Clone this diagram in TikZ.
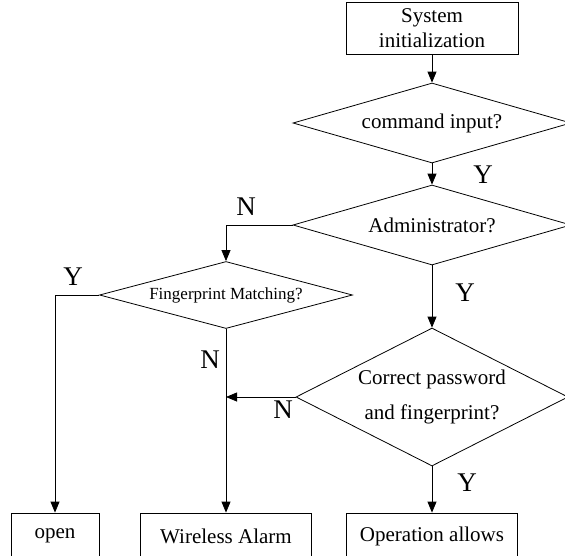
\documentclass[tikz,border=0pt]{standalone}
\usepackage{fontspec}
\setmainfont{Liberation Serif}
\usetikzlibrary{arrows.meta,shapes.geometric,positioning}
\tikzstyle{post}=[-{Triangle[length=11pt,width=9pt]},line width=0.8pt]
\tikzstyle{stepbox}=[draw,line width=0.8pt,minimum height=52pt,inner sep=0pt,font=\fontsize{21}{25}\selectfont]
\tikzstyle{ask}=[draw,diamond,aspect=3,inner sep=0pt,line width=0.8pt,font=\fontsize{21}{25}\selectfont]
\tikzstyle{yn}=[font=\fontsize{27}{30}\selectfont,inner sep=0pt]

\begin{document}
\begin{tikzpicture}[x=1pt,y=-1pt,node distance=95pt]
            \useasboundingbox (0,0) rectangle (565,555);
            \node (init) [stepbox, minimum width=172pt, align=center] at (432,28) {System\\initialization};
            \node (cmd) [ask, minimum width=278pt, minimum height=80pt] [below of=init] {command input?};
            \node (adm) [ask, minimum width=278pt, minimum height=80pt] [below of=cmd, node distance=102pt] {Administrator?};
            \node (fpm) [ask, minimum width=253pt, minimum height=67pt, font=\fontsize{17}{20}\selectfont] at (226,295) {Fingerprint Matching?};
            \node (pwd) [ask, minimum width=272pt, minimum height=138pt, inner sep=-15pt, align=center, font=\fontsize{21}{35}\selectfont] [below of=adm, node distance=172pt] {Correct password\\and fingerprint?};
            \node (ops) [stepbox, minimum width=171pt, minimum height=46pt] [below of=pwd, node distance=139pt] {Operation allows};
            \node (alarm) [stepbox, minimum width=171pt, minimum height=46pt] at (226,536) {Wireless Alarm};
            \node (open) [stepbox, minimum width=88pt, minimum height=46pt] at (55,536) {open};

            \draw[post] (init) -- (cmd);
            \draw[post] (cmd) -- (adm);
            \draw[post] (adm.west) -| (fpm.north);
            \draw[post] (fpm.west) -| (open.north);
            \draw[post] (fpm.south) -- (alarm.north);
            \draw[post] (adm) -- (pwd);
            \draw[post] (pwd.west) -- (pwd.west -| fpm.south);
            \draw[post] (pwd) -- (ops);

            \node (y1) [yn] at (483,175) {Y};
            \node (n1) [yn] at (246,207) {N};
            \node (y2) [yn] at (73,277) {Y};
            \node (y3) [yn] at (465,293) {Y};
            \node (n2) [yn] at (210,360) {N};
            \node (n3) [yn] at (283,410) {N};
            \node (y4) [yn] at (467,483) {Y};
            %\draw[post] (pwd.east) -- ++(20,0);
        \end{tikzpicture}
\end{document}
